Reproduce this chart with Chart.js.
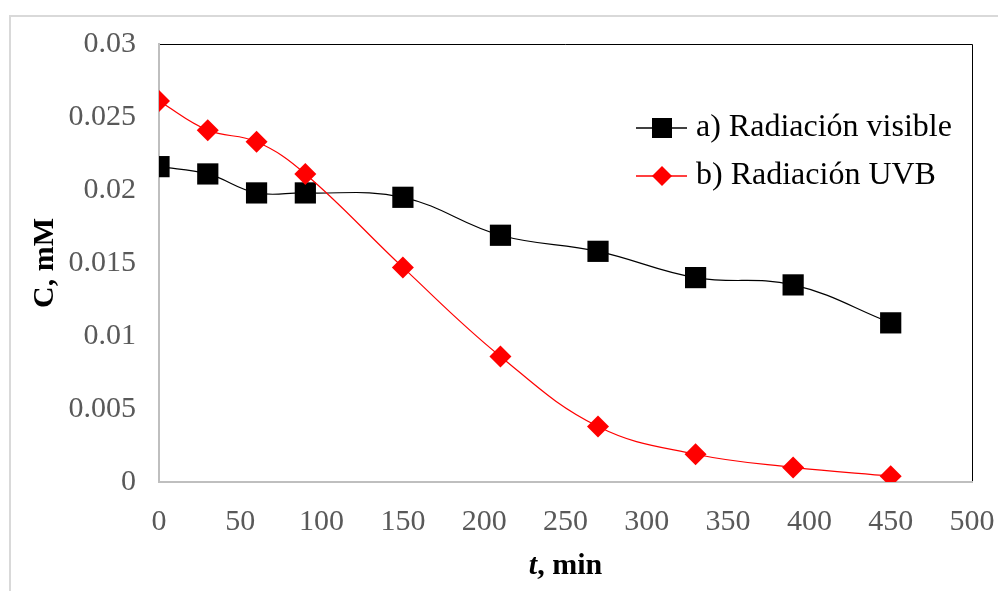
<!DOCTYPE html>
<html>
<head>
<meta charset="utf-8">
<script src="https://cdn.jsdelivr.net/npm/chart.js@4.4.1/dist/chart.umd.min.js"></script>
<style>
  html, body { margin: 0; padding: 0; background: #fff; }
  #wrap { width: 998px; height: 591px; position: relative; }
</style>
</head>
<body>
<div id="wrap"><canvas id="chart" width="998" height="591"></canvas></div>
<script>
// data
const times = [0, 30, 60, 90, 150, 210, 270, 330, 390, 450];
const visible = [0.0216, 0.0211, 0.0198, 0.0198, 0.0195, 0.0169, 0.0158, 0.0140, 0.0135, 0.0109];
const uvb = [0.0261, 0.0241, 0.0233, 0.0211, 0.0147, 0.0086, 0.0038, 0.0019, 0.0010, 0.0004];
const seriesLabels = ['a) Radiación visible', 'b) Radiación UVB'];
const xTitle = ['t', ', min'];   // "t" is italic in the original
const yTitle = 'C, mM';

const tickFont = { family: 'Liberation Serif', size: 30 };
const tickColor = '#595959';

function toPoints(xs, ys) {
  return xs.map((x, i) => ({ x: x, y: ys[i] }));
}

// outer frame + black top/right border of the plot area
const framePlugin = {
  id: 'frame',
  beforeDraw(chart) {
    const ctx = chart.ctx;
    ctx.save();
    ctx.fillStyle = '#fff';
    ctx.fillRect(0, 0, chart.width, chart.height);
    ctx.strokeStyle = '#d9d9d9';
    ctx.lineWidth = 2;
    ctx.strokeRect(10, 16, 1200, 800);
    const a = chart.chartArea;
    ctx.strokeStyle = '#000';
    ctx.lineWidth = 1;
    ctx.beginPath();
    ctx.moveTo(a.left, a.top + 0.5);
    ctx.lineTo(a.right + 0.5, a.top + 0.5);
    ctx.lineTo(a.right + 0.5, a.bottom);
    ctx.stroke();
    ctx.restore();
  }
};

// legend drawn inside the plot, like the original, plus the x title
const insideLegend = {
  id: 'insideLegend',
  afterDraw(chart) {
    const ctx = chart.ctx;
    ctx.save();
    chart.data.datasets.forEach((ds, i) => {
      const y = 128 + i * 48;
      ctx.strokeStyle = ds.borderColor;
      ctx.lineWidth = 1.5;
      ctx.beginPath();
      ctx.moveTo(636, y);
      ctx.lineTo(687, y);
      ctx.stroke();
      ctx.fillStyle = ds.pointBackgroundColor;
      if (ds.pointStyle === 'rect') {
        ctx.fillRect(662 - 10, y - 10, 20, 20);
      } else {
        ctx.beginPath();
        ctx.moveTo(662, y - 10);
        ctx.lineTo(672, y);
        ctx.lineTo(662, y + 10);
        ctx.lineTo(652, y);
        ctx.closePath();
        ctx.fill();
      }
      ctx.fillStyle = '#000';
      ctx.font = '32px "Liberation Serif"';
      ctx.textBaseline = 'middle';
      ctx.fillText(ds.label, 696, y);
    });

    // x axis title: bold italic "t" + bold ", min"
    const a = chart.chartArea;
    const f1 = 'italic bold 30px "Liberation Serif"';
    const f2 = 'bold 30px "Liberation Serif"';
    ctx.font = f1;
    const w1 = ctx.measureText(xTitle[0]).width;
    ctx.font = f2;
    const w2 = ctx.measureText(xTitle[1]).width;
    let x = (a.left + a.right) / 2 - (w1 + w2) / 2;
    ctx.fillStyle = '#000';
    ctx.textBaseline = 'middle';
    ctx.font = f1;
    ctx.fillText(xTitle[0], x, 566);
    ctx.font = f2;
    ctx.fillText(xTitle[1], x + w1, 566);
    ctx.restore();
  }
};

new Chart(document.getElementById('chart'), {
  type: 'line',
  data: {
    datasets: [
      {
        label: seriesLabels[0],
        data: toPoints(times, visible),
        borderColor: '#000',
        borderWidth: 1.2,
        pointStyle: 'rect',
        pointRadius: 15,
        pointBackgroundColor: '#000',
        pointBorderColor: '#000',
        pointBorderWidth: 0,
        tension: 0.4,
        order: 1
      },
      {
        label: seriesLabels[1],
        data: toPoints(times, uvb),
        borderColor: '#ff0000',
        borderWidth: 1.2,
        pointStyle: 'rectRot',
        pointRadius: 11,
        pointBackgroundColor: '#ff0000',
        pointBorderColor: '#ff0000',
        pointBorderWidth: 0,
        tension: 0.4,
        order: 0
      }
    ]
  },
  options: {
    responsive: false,
    animation: false,
    layout: { padding: { top: 44, right: 26, left: 0, bottom: 0 } },
    plugins: {
      legend: { display: false },
      tooltip: { enabled: false }
    },
    scales: {
      x: {
        type: 'linear',
        min: 0,
        max: 500,
        ticks: { stepSize: 50, font: tickFont, color: tickColor, padding: 14, maxRotation: 0 },
        grid: { display: false },
        border: { display: true, color: '#bfbfbf', width: 2 },
        afterFit(scale) {
          scale.height = 109;
          scale.paddingLeft = 0;
          scale.paddingRight = 0;
        }
      },
      y: {
        min: 0,
        max: 0.03,
        ticks: {
          stepSize: 0.005,
          font: tickFont,
          color: tickColor,
          padding: 15,
          callback: v => String(Number(v.toFixed(3)))
        },
        grid: { display: false },
        border: { display: true, color: '#bfbfbf', width: 2 },
        title: {
          display: true,
          text: yTitle,
          color: '#000',
          font: { family: 'Liberation Serif', size: 30, weight: 'bold' },
          padding: { top: 27, bottom: 0 }
        },
        afterFit(scale) { scale.width = 159; }
      }
    }
  },
  plugins: [framePlugin, insideLegend]
});
</script>
</body>
</html>
